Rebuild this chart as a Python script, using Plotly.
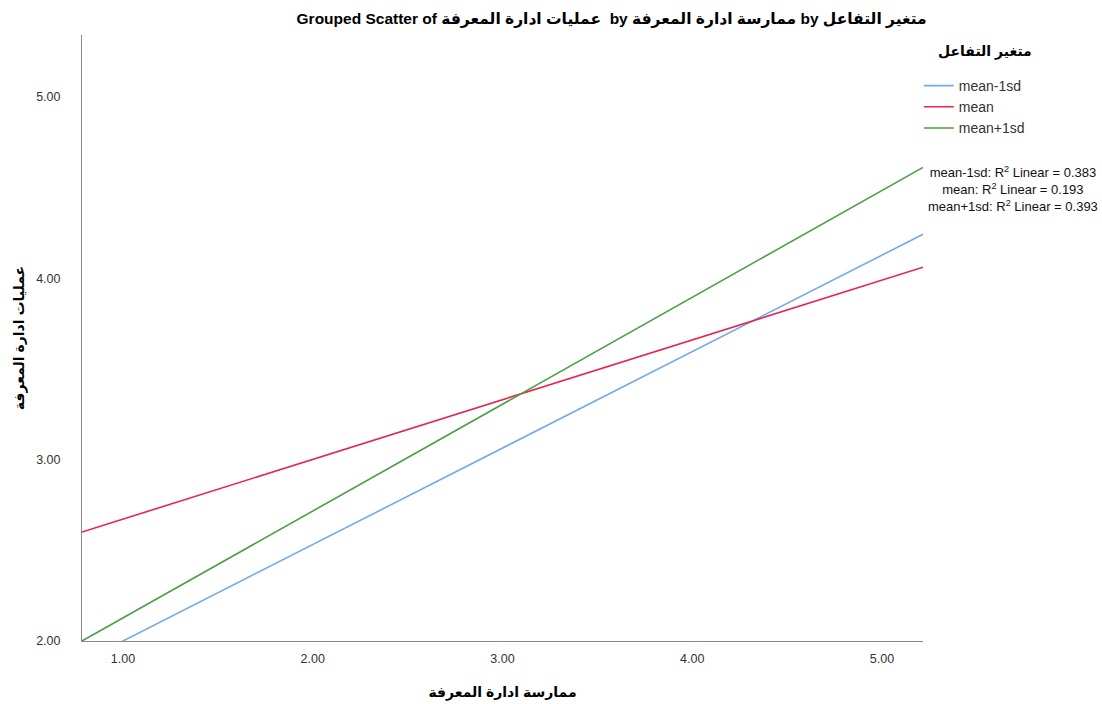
import plotly.graph_objects as go

# Data: fitted regression lines (y at the x-axis extremes)
x_ends = [0.784, 5.216]
series_names = ["mean-1sd", "mean", "mean+1sd"]
y_mean_minus = [1.885, 4.243]
y_mean = [2.601, 4.061]
y_mean_plus = [2.000, 4.612]
r2_values = [0.383, 0.193, 0.393]
x_ticks = [1, 2, 3, 4, 5]
y_ticks = [2, 3, 4, 5]

colors = ["#75aaea", "#e5264f", "#4c9e46"]
font_fam = "Arial, 'Liberation Sans', 'DejaVu Sans', sans-serif"

fig = go.Figure()
for name, ys, c in zip(series_names, [y_mean_minus, y_mean, y_mean_plus], colors):
    fig.add_trace(go.Scatter(x=x_ends, y=ys, mode="lines", name=name,
                             line=dict(color=c, width=1.6)))

title_text = "Grouped Scatter of عمليات ادارة المعرفة  by ممارسة ادارة المعرفة by متغير التفاعل"

r2_text = "<br>".join(f"{n}: R<sup>2</sup> Linear = {v:.3f}" for n, v in zip(series_names, r2_values))

fig.update_layout(
    width=1102, height=704,
    margin=dict(l=82, r=179, t=35, b=63, autoexpand=False),
    paper_bgcolor="white", plot_bgcolor="white",
    font=dict(family=font_fam, size=12, color="#222"),
    title=dict(text="<b>" + title_text + "</b>", x=0.555, xanchor="center",
               yref="container", y=0.974, yanchor="middle",
               font=dict(size=15.5, color="#000")),
    xaxis=dict(range=[x_ends[0], x_ends[1]], tickvals=x_ticks, tickformat=".2f",
               showgrid=False, zeroline=False, showline=True, linecolor="#888",
               linewidth=1, ticks="", ticklabelstandoff=6, automargin=False,
               tickfont=dict(size=12.5, color="#333"),
               title=dict(text="<b>ممارسة ادارة المعرفة</b>", standoff=22,
                          font=dict(size=14, color="#000"))),
    yaxis=dict(range=[2.0, 5.342], tickvals=y_ticks, tickformat=".2f",
               showgrid=False, zeroline=False, showline=True, linecolor="#888",
               linewidth=1, ticks="", ticklabelstandoff=18, automargin=False,
               tickfont=dict(size=12.5, color="#333"),
               title=dict(text="<b>عمليات ادارة المعرفة</b>", standoff=8,
                          font=dict(size=14, color="#000"))),
    legend=dict(x=0.995, xanchor="left", y=(641 - 70) / 606, yanchor="top",
                font=dict(size=14, color="#333"), tracegroupgap=0,
                itemwidth=30, bgcolor="rgba(0,0,0,0)"),
    annotations=[
        dict(text="<b>متغير التفاعل</b>", xref="paper", yref="paper",
             x=(985 - 82) / 841, y=(641 - 52) / 606, xanchor="center", yanchor="middle",
             showarrow=False, font=dict(size=14, color="#000")),
        dict(text=r2_text, xref="paper", yref="paper",
             x=(1013 - 82) / 841, y=(641 - 189) / 606, xanchor="center", yanchor="middle",
             showarrow=False, align="center",
             font=dict(size=13, color="#111")),
    ],
)

fig.write_html("out.html", config={"displayModeBar": False},
               post_script="document.body.style.margin='0';")
